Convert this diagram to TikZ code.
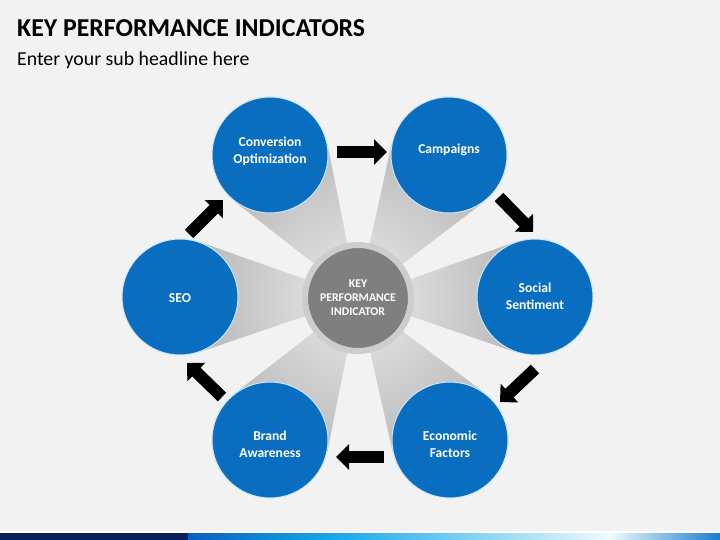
\documentclass[tikz,border=0pt]{standalone}
\usepackage{fontspec}
\setmainfont{Carlito}
\usetikzlibrary{arrows.meta,calc}
\definecolor{bgc}{HTML}{F2F2F2}
\definecolor{kpiblue}{HTML}{0A6EC0}
\definecolor{kpiedge}{HTML}{CFE6F7}
\definecolor{centerfill}{HTML}{7F7F7F}
\definecolor{ringc}{HTML}{CDCDCD}
\definecolor{beamgray}{HTML}{A8A8A8}
\definecolor{beamlight}{HTML}{EAEAEA}
\definecolor{navy}{HTML}{0B1F5C}
\definecolor{barA}{HTML}{0A5FC0}
\definecolor{barB}{HTML}{12A8E8}
\definecolor{barC}{HTML}{F0FAFE}
\definecolor{barD}{HTML}{1A7CCC}
\pgfdeclarelayer{bglayer}
\pgfdeclarelayer{beamlayer}
\pgfsetlayers{bglayer,beamlayer,main}
\tikzset{
  kpic/.style={circle, fill=kpiblue, draw=kpiedge, line width=1pt, minimum size=116pt, inner sep=0pt},
  kpitext/.style={text=white, font=\bfseries\fontsize{13.6}{16.7}\selectfont, align=center},
  blockarrow/.style={line width=12pt, line cap=butt, -{Triangle[length=13pt,width=25pt]}, black},
}
\begin{document}
\begin{tikzpicture}[x=1pt,y=-1pt]
\useasboundingbox (0,0) rectangle (720,540);
\begin{pgfonlayer}{bglayer}
  \fill[bgc] (0,0) rectangle (720,540);
  \fill[white] (0,531) rectangle (720,533);
  \fill[navy] (0,533) rectangle (188,540);
  \shade[left color=barA, right color=barB] (188,533) rectangle (330,540);
  \shade[left color=barB, right color=barC] (329.5,533) rectangle (610,540);
  \shade[left color=barC, right color=barD] (609.5,533) rectangle (720,540);
\end{pgfonlayer}

% title
\node[anchor=base west, inner sep=0pt, font=\bfseries\fontsize{25.8}{30}\selectfont] (title) at (17,37) {KEY PERFORMANCE INDICATORS};
\node[anchor=base west, inner sep=0pt, font=\fontsize{19.8}{24}\selectfont] (sub) at (17,66) {Enter your sub headline here};

% circles
\node[kpic] (conv) at (270,155) {};
\node[kpic] (camp) at (449,155) {};
\node[kpic] (soc) at (535,297) {};
\node[kpic] (eco) at (450,440) {};
\node[kpic] (brand) at (270,440) {};
\node[kpic] (seo) at (180,297) {};

\node[kpitext] (convt) at (270,151.5) {Conversion\\Optimization};
\node[kpitext] (campt) at (449,150) {Campaigns};
\node[kpitext] (soct) at (535,296.5) {Social\\Sentiment};
\node[kpitext] (ecot) at (450,444.5) {Economic\\Factors};
\node[kpitext] (brandt) at (270,444.5) {Brand\\Awareness};
\node[kpitext] (seot) at (180,298) {SEO};

% center
\node[circle, fill=centerfill, draw=ringc, line width=6pt, minimum size=106pt, inner sep=0pt,
      text=white, font=\bfseries\fontsize{11.8}{14.2}\selectfont, align=center] (kpi) at (358,298)
      {KEY\\PERFORMANCE\\INDICATOR};

% beams
\begin{pgfonlayer}{beamlayer}
\foreach \n in {conv,camp,soc,eco,brand,seo}{
  \begin{scope}
    \clip (kpi.center) -- (tangent cs:node=\n,point={(kpi.center)},solution=1)
          -- (\n.center) -- (tangent cs:node=\n,point={(kpi.center)},solution=2) -- cycle;
    \shade[inner color=beamlight, outer color=beamgray] (kpi.center) circle (220pt);
  \end{scope}
}
\end{pgfonlayer}

% arrows
\coordinate (a1s) at (337,152); \coordinate (a1e) at (387,152);
\coordinate (a2s) at (499,197); \coordinate (a2e) at (533,232);
\coordinate (a3s) at (535,369); \coordinate (a3e) at (500,402);
\coordinate (a4s) at (384,457); \coordinate (a4e) at (336,457);
\coordinate (a5s) at (222,397); \coordinate (a5e) at (187,363);
\coordinate (a6s) at (189,234); \coordinate (a6e) at (223,200);
\draw[blockarrow] (a1s) -- (a1e);
\draw[blockarrow] (a2s) -- (a2e);
\draw[blockarrow] (a3s) -- (a3e);
\draw[blockarrow] (a4s) -- (a4e);
\draw[blockarrow] (a5s) -- (a5e);
\draw[blockarrow] (a6s) -- (a6e);
\end{tikzpicture}
\end{document}
